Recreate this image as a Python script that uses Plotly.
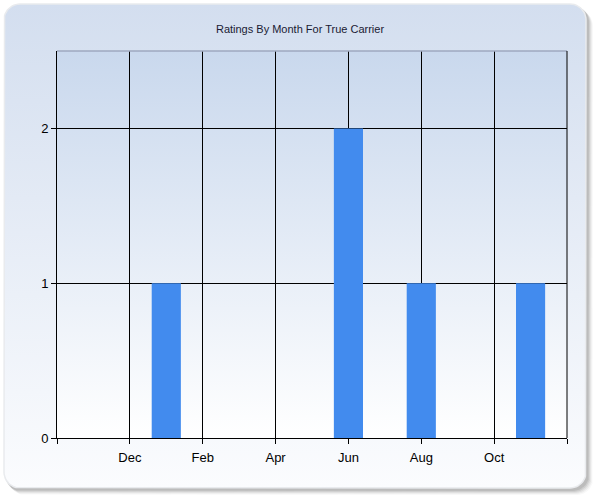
import math
import plotly.graph_objects as go

# ---- data ----
axis_start = (2011, 10)          # first month on the x axis (left edge)
axis_months = 14                 # number of months spanned by the axis
tick_labels = ["", "Dec", "Feb", "Apr", "Jun", "Aug", "Oct", ""]
bar_periods = ["2012-01", "2012-06", "2012-08", "2012-11"]
ratings = [1, 2, 1, 1]
title_text = "Ratings By Month For True Carrier"

def month_index(period):
    y, m = map(int, period.split("-"))
    return (y - axis_start[0]) * 12 + (m - axis_start[1])

bar_x = [month_index(p) for p in bar_periods]
tick_vals = list(range(0, axis_months + 1, 2))

W, H = 600, 500
L, R, T, B = 57, 567, 51, 438   # plot area in pixels

def roundrect(x0, y0, x1, y1, r, n=12):
    xs, ys = [], []
    corners = [(x1 - r, y0 + r, -90, 0), (x1 - r, y1 - r, 0, 90),
               (x0 + r, y1 - r, 90, 180), (x0 + r, y0 + r, 180, 270)]
    for cx, cy, a0, a1 in corners:
        for i in range(n + 1):
            a = math.radians(a0 + (a1 - a0) * i / n)
            xs.append(cx + r * math.cos(a))
            ys.append(cy + r * math.sin(a))
    xs.append(xs[0]); ys.append(ys[0])
    return xs, ys

fig = go.Figure()

# shadow layers
for off, alpha in [(7, 0.05), (6, 0.08), (5, 0.12), (4, 0.16), (3, 0.2)]:
    sx, sy = roundrect(4 + off - 2, 4 + off - 1, 586 + off, 488 + off, 16)
    fig.add_trace(go.Scatter(x=sx, y=sy, fill="toself", mode="lines",
                             line=dict(width=0), fillcolor=f"rgba(120,120,120,{alpha})",
                             hoverinfo="skip", showlegend=False, xaxis="x", yaxis="y"))

# panel
px_, py_ = roundrect(4, 4, 586, 488, 16)
fig.add_trace(go.Scatter(x=px_, y=py_, fill="toself", mode="lines",
                         line=dict(width=1.5, color="#e9ebee"),
                         fillgradient=dict(type="vertical",
                                           colorscale=[[0, "#d3deef"], [1, "#fbfcfe"]],
                                           start=4, stop=488),
                         hoverinfo="skip", showlegend=False, xaxis="x", yaxis="y"))
# plot area gradient
fig.add_trace(go.Scatter(x=[L, R, R, L, L], y=[T, T, B, B, T], fill="toself", mode="lines",
                         line=dict(width=0),
                         fillgradient=dict(type="vertical",
                                           colorscale=[[0, "#c9d8ed"], [1, "#ffffff"]],
                                           start=T, stop=B),
                         hoverinfo="skip", showlegend=False, xaxis="x", yaxis="y"))

# bars
fig.add_trace(go.Bar(x=bar_x, y=ratings, width=0.8, marker=dict(color="#428bee", line=dict(width=0)),
                     showlegend=False, xaxis="x2", yaxis="y2"))

fig.update_layout(
    template="none",
    width=W, height=H,
    margin=dict(l=0, r=0, t=0, b=0, pad=0, autoexpand=False),
    paper_bgcolor="white", plot_bgcolor="rgba(0,0,0,0)",
    font=dict(family="Liberation Sans, Arial, sans-serif", size=13, color="black"),
    xaxis=dict(domain=[0, 1], range=[0, W], visible=False, fixedrange=True, automargin=False),
    yaxis=dict(domain=[0, 1], range=[H, 0], visible=False, fixedrange=True, automargin=False),
    xaxis2=dict(domain=[L / W, R / W], range=[0, axis_months], anchor="y2", automargin=False,
                tickmode="array", tickvals=tick_vals, ticktext=tick_labels,
                showgrid=True, gridcolor="black", gridwidth=1,
                showline=True, linecolor="black", linewidth=1,
                ticks="outside", ticklen=5, tickcolor="black", tickwidth=1, zeroline=False,
                ticklabelstandoff=2, tickfont=dict(size=13)),
    yaxis2=dict(domain=[1 - B / H, 1 - T / H], range=[0, 2.5], anchor="x2", automargin=False,
                tickmode="array", tickvals=[0, 1, 2],
                showgrid=True, gridcolor="black", gridwidth=1,
                showline=True, linecolor="black", linewidth=1,
                ticks="outside", ticklen=5, tickcolor="black", tickwidth=1, zeroline=False,
                tickfont=dict(size=13)),
    title=dict(text=title_text, x=0.5, xanchor="center", y=1 - 29 / H, yanchor="middle",
               font=dict(size=11, color="#1a1a33")),
    shapes=[
        dict(type="line", xref="x2 domain", yref="y2 domain", x0=0, x1=1, y0=1, y1=1,
             line=dict(color="#9ea9bf", width=1.5)),
        dict(type="line", xref="x2 domain", yref="y2 domain", x0=1, x1=1, y0=0, y1=1,
             line=dict(color="black", width=1)),
    ],
)

fig.write_html("out.html")
